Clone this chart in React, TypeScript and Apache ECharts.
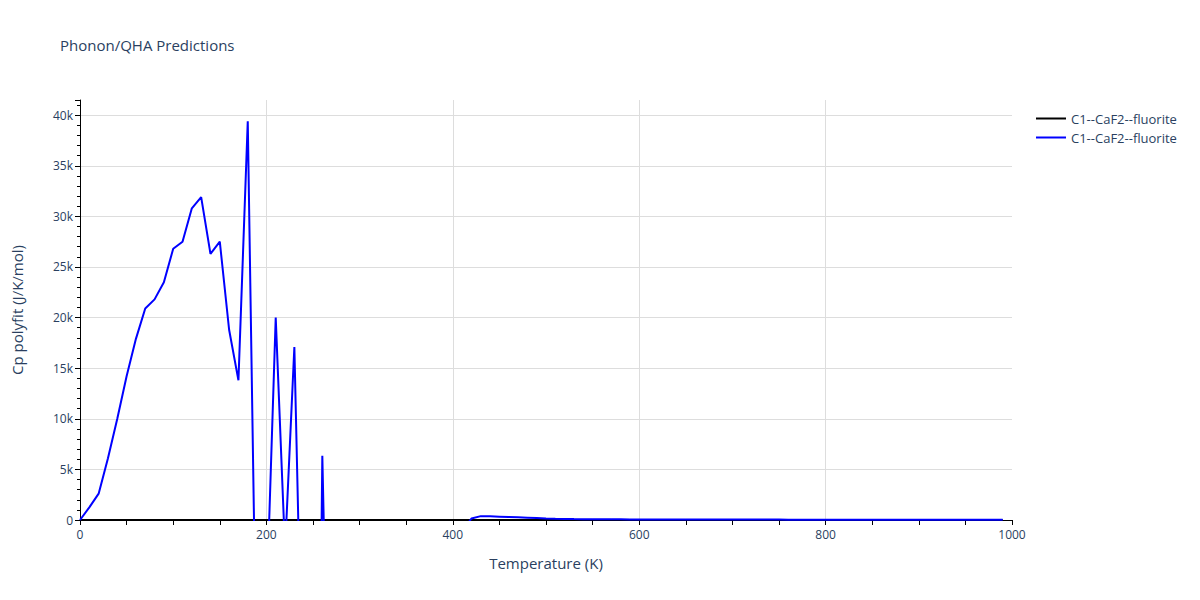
import * as echarts from "echarts";
import { useEffect, useRef } from "react";

const FONT = '"Open Sans", verdana, arial, sans-serif';
const TEXT_COLOR = "#2a3f5f";
const GRID_COLOR = "#dddddd";

const seriesName = "C1--CaF2--fluorite";

// temperature samples (K)
const temperatures = [
    0, 10, 20, 30, 40, 50, 60, 70, 80, 90,
    100, 110, 120, 130, 140, 150, 160, 170, 180, 190,
    200, 210, 220, 230, 240, 250, 260, 270, 280, 290,
    300, 310, 320, 330, 340, 350, 360, 370, 380, 390,
    400, 410, 420, 430, 440, 450, 460, 470, 480, 490,
    500, 510, 520, 530, 540, 550, 560, 570, 580, 590,
    600, 610, 620, 630, 640, 650, 660, 670, 680, 690,
    700, 710, 720, 730, 740, 750, 760, 770, 780, 790,
    800, 810, 820, 830, 840, 850, 860, 870, 880, 890,
    900, 910, 920, 930, 940, 950, 960, 970, 980, 990
];

// reference series, flat on the axis
const blackCp = [
    0, 0, 0, 0, 0, 0, 0, 0, 0, 0,
    0, 0, 0, 0, 0, 0, 0, 0, 0, 0,
    0, 0, 0, 0, 0, 0, 0, 0, 0, 0,
    0, 0, 0, 0, 0, 0, 0, 0, 0, 0,
    0, 0, 0, 0, 0, 0, 0, 0, 0, 0,
    0, 0, 0, 0, 0, 0, 0, 0, 0, 0,
    0, 0, 0, 0, 0, 0, 0, 0, 0, 0,
    0, 0, 0, 0, 0, 0, 0, 0, 0, 0,
    0, 0, 0, 0, 0, 0, 0, 0, 0, 0,
    0, 0, 0, 0, 0, 0, 0, 0, 0, 0
];

// polyfit Cp; negative values fall below the visible range
const blueCp = [
    0, 1250, 2600, 6100, 10000, 14200, 17900, 20900, 21800, 23500,
    26800, 27500, 30800, 31900, 26300, 27500, 18800, 13800, 39400, -19400,
    -8600, 20000, -3000, 17100, -23600, -80000, 6350, -36000, -42000, -47000,
    -38000, -31000, -26000, -22000, -18500, -15000, -12000, -9500, -7000, -5000,
    -3000, -1100, 150, 380, 360, 330, 300, 265, 230, 195,
    160, 130, 110, 95, 85, 78, 72, 67, 63, 60,
    57, 55, 53, 51, 49, 47, 46, 45, 44, 43,
    42, 41, 40, 39, 38, 38, 37, 36, 36, 35,
    35, 34, 34, 33, 33, 32, 32, 32, 31, 31,
    31, 30, 30, 30, 29, 29, 29, 29, 28, 28
];

export default function App() {
    const chartRef = useRef<HTMLDivElement>(null);

    useEffect(() => {
        document.body.style.margin = "0";
        if (!chartRef.current) return;

        const chart = echarts.init(chartRef.current, null, { renderer: "svg" });

        const labelStyle = { color: TEXT_COLOR, fontSize: 12, fontFamily: FONT };
        const legendBase = {
            orient: "vertical",
            left: 1031,
            itemWidth: 30,
            itemHeight: 2,
            icon: "rect",
            selectedMode: false,
            textStyle: { ...labelStyle, fontSize: 13 }
        };

        const option: echarts.EChartsOption = {
            animation: false,
            backgroundColor: "#ffffff",
            title: {
                text: "Phonon/QHA Predictions",
                left: 55,
                top: 32,
                textStyle: {
                    color: TEXT_COLOR,
                    fontSize: 15,
                    fontWeight: "normal",
                    fontFamily: FONT
                }
            },
            legend: [
                {
                    ...legendBase,
                    top: 107,
                    data: [{ name: seriesName, itemStyle: { color: "#000000" } }]
                },
                {
                    ...legendBase,
                    top: 126,
                    data: [{ name: seriesName, itemStyle: { color: "#0000ff" } }]
                }
            ] as any,
            grid: {
                left: 80,
                right: 188,
                top: 100,
                bottom: 80
            },
            xAxis: {
                type: "value",
                min: 0,
                max: 1000,
                interval: 200,
                name: "Temperature (K)",
                nameLocation: "middle",
                nameGap: 35,
                nameTextStyle: { color: TEXT_COLOR, fontSize: 15, fontFamily: FONT },
                axisLine: { show: true, onZero: false, lineStyle: { color: "#000000", width: 1 } },
                axisTick: { show: true, length: 5, lineStyle: { color: "#000000" } },
                minorTick: { show: true, splitNumber: 4, length: 5, lineStyle: { color: "#000000" } },
                axisLabel: { ...labelStyle, margin: 8, formatter: (v: number) => String(v) },
                splitLine: {
                    show: true,
                    showMinLine: false,
                    showMaxLine: false,
                    lineStyle: { color: GRID_COLOR }
                }
            } as any,
            yAxis: {
                type: "value",
                min: 0,
                max: 41500,
                interval: 5000,
                name: "Cp polyfit (J/K/mol)",
                nameLocation: "middle",
                nameGap: 56,
                nameRotate: 90,
                nameTextStyle: { color: TEXT_COLOR, fontSize: 15, fontFamily: FONT },
                axisLine: { show: true, lineStyle: { color: "#000000", width: 1 } },
                axisTick: { show: true, length: 5, lineStyle: { color: "#000000" } },
                minorTick: { show: true, splitNumber: 5, length: 3, lineStyle: { color: "#000000" } },
                axisLabel: {
                    ...labelStyle,
                    margin: 7,
                    showMaxLabel: false,
                    formatter: (v: number) => (v === 0 ? "0" : v / 1000 + "k")
                },
                splitLine: {
                    show: true,
                    showMinLine: false,
                    showMaxLine: false,
                    lineStyle: { color: GRID_COLOR }
                }
            } as any,
            series: [
                {
                    name: seriesName,
                    type: "line",
                    symbol: "none",
                    showSymbol: false,
                    lineStyle: { color: "#000000", width: 2 },
                    itemStyle: { color: "#000000" },
                    data: temperatures.map((t, i) => [t, blackCp[i]])
                },
                {
                    name: seriesName,
                    type: "line",
                    symbol: "none",
                    showSymbol: false,
                    lineStyle: { color: "#0000ff", width: 2 },
                    itemStyle: { color: "#0000ff" },
                    data: temperatures.map((t, i) => [t, blueCp[i]])
                }
            ]
        };

        chart.setOption(option);

        return () => {
            chart.dispose();
        };
    }, []);

    return <div ref={chartRef} style={{ width: 1200, height: 600 }} />;
}
